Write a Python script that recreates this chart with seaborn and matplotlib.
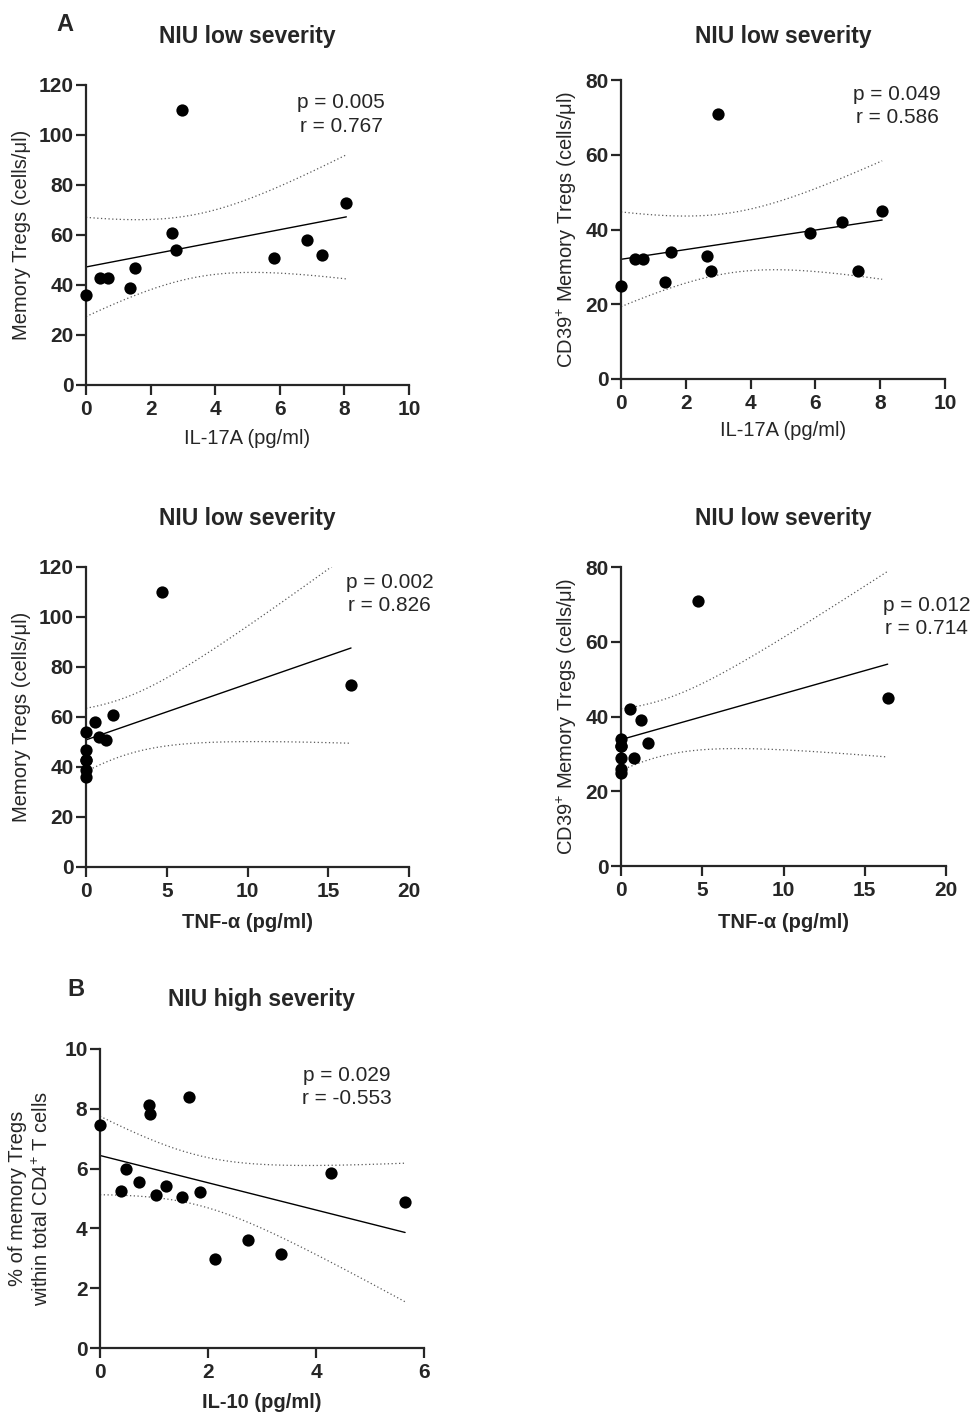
import numpy as np
import pandas as pd
import matplotlib

matplotlib.use("Agg")
import matplotlib.pyplot as plt
import seaborn as sns

# values (same 12 low-severity patients in panels A)
il17a = [0.0, 0.42, 0.67, 1.36, 1.53, 2.66, 2.78, 2.98, 5.82, 6.83, 7.30, 8.06]
tnfa = [0.0, 0.0, 0.0, 0.0, 0.0, 1.65, 0.0, 4.72, 1.24, 0.58, 0.78, 16.41]
mem_tregs = [36, 43, 43, 39, 47, 61, 54, 110, 51, 58, 52, 73]
cd39_tregs = [25, 32, 32, 26, 34, 33, 29, 71, 39, 42, 29, 45]

# panel B, high severity
il10 = [0.0, 0.38, 0.49, 0.73, 0.91, 0.93, 1.03, 1.22, 1.52, 1.65, 1.85,
        2.13, 2.74, 3.35, 4.28, 5.65]
pct_mem_tregs = [7.45, 5.26, 5.99, 5.54, 8.14, 7.81, 5.13, 5.43, 5.05, 8.39,
                 5.21, 2.97, 3.61, 3.14, 5.86, 4.88]

stats_labels = [
    ("p = 0.005", "r = 0.767"),
    ("p = 0.049", "r = 0.586"),
    ("p = 0.002", "r = 0.826"),
    ("p = 0.012", "r = 0.714"),
    ("p = 0.029", "r = -0.553"),
]

# two-sided 95% t quantiles by degrees of freedom
T95 = {10: 2.228, 14: 2.145}

sns.set_style("ticks")
plt.rcParams["font.family"] = ["Liberation Sans", "DejaVu Sans"]
plt.rcParams["mathtext.fontset"] = "custom"
plt.rcParams["mathtext.rm"] = "Liberation Sans"
plt.rcParams["mathtext.it"] = "Liberation Sans:italic"
plt.rcParams["mathtext.bf"] = "Liberation Sans:bold"

W, H = 974, 1417
fig = plt.figure(figsize=(W / 100, H / 100), dpi=100)


def px_axes(x0, x1, y0, y1):
    return fig.add_axes([x0 / W, 1 - y1 / H, (x1 - x0) / W, (y1 - y0) / H])


def draw_panel(ax, x, y, xlim, xstep, ylim, ystep, title, xlabel, ylabel,
               xbold, stats, stat_pos, ylab_off, xlab_off, title_y):
    df = pd.DataFrame({"x": x, "y": y})
    sns.regplot(data=df, x="x", y="y", ax=ax, ci=None, truncate=True,
                color="black",
                scatter_kws=dict(s=78, linewidths=0, clip_on=False, zorder=4, alpha=1),
                line_kws=dict(color="black", lw=1.0))

    # 95% confidence band of the fitted line, dotted
    xa = np.asarray(x, float)
    ya = np.asarray(y, float)
    n = len(xa)
    slope, intercept = np.polyfit(xa, ya, 1)
    resid = ya - (intercept + slope * xa)
    s = np.sqrt((resid ** 2).sum() / (n - 2))
    sxx = ((xa - xa.mean()) ** 2).sum()
    grid = np.linspace(xa.min(), xa.max(), 300)
    fit = intercept + slope * grid
    half = T95[n - 2] * s * np.sqrt(1 / n + (grid - xa.mean()) ** 2 / sxx)
    for band in (fit + half, fit - half):
        ax.plot(grid, band, color="0.35", lw=0.9, ls=(0, (1, 2)))

    ax.set_xlim(*xlim)
    ax.set_ylim(*ylim)
    ax.set_xticks(np.arange(xlim[0], xlim[1] + xstep / 2, xstep))
    ax.set_yticks(np.arange(ylim[0], ylim[1] + ystep / 2, ystep))
    sns.despine(ax=ax)
    for sp in ("left", "bottom"):
        ax.spines[sp].set_linewidth(1.6)
    ax.tick_params(axis="both", length=7, width=1.6, labelsize=15)
    ax.tick_params(axis="y", pad=2)
    ax.tick_params(axis="x", pad=4)
    for lbl in ax.get_xticklabels() + ax.get_yticklabels():
        lbl.set_fontweight("bold")

    ax.set_xlabel(xlabel, fontsize=14.5, fontweight="bold" if xbold else "normal")
    ax.set_ylabel(ylabel, fontsize=14.5, linespacing=1.3)
    ax.xaxis.set_label_coords(0.5, xlab_off)
    ax.xaxis.label.set_va("center")
    ax.yaxis.set_label_coords(ylab_off, 0.5)
    ax.yaxis.label.set(va="center", ha="center")

    ax.set_title(title, fontsize=16.5, fontweight="bold", y=title_y, va="center")

    sx, sy1, sy2 = stat_pos
    ax.text(sx, sy1, stats[0], transform=ax.transAxes, ha="center", va="center", fontsize=15)
    ax.text(sx, sy2, stats[1], transform=ax.transAxes, ha="center", va="center", fontsize=15)


ax1 = px_axes(86, 409, 85, 385)
draw_panel(ax1, il17a, mem_tregs, (0, 10), 2, (0, 120), 20,
           "NIU low severity", "IL-17A (pg/ml)", "Memory Tregs (cells/μl)",
           False, stats_labels[0], (0.79, 0.94, 0.86), -64 / 323, -53 / 300, 1.133)

ax2 = px_axes(621, 945, 80, 379)
draw_panel(ax2, il17a, cd39_tregs, (0, 10), 2, (0, 80), 20,
           "NIU low severity", "IL-17A (pg/ml)", "CD39$^{+}$ Memory Tregs (cells/μl)",
           False, stats_labels[1], (0.852, 0.95, 0.876), -54 / 324, -51 / 299, 1.117)

ax3 = px_axes(86, 409, 567, 867)
draw_panel(ax3, tnfa, mem_tregs, (0, 20), 5, (0, 120), 20,
           "NIU low severity", "TNF-α (pg/ml)", "Memory Tregs (cells/μl)",
           True, stats_labels[2], (0.94, 0.95, 0.873), -64 / 323, -55 / 300, 1.133)

ax4 = px_axes(621, 946, 567, 866)
draw_panel(ax4, tnfa, cd39_tregs, (0, 20), 5, (0, 80), 20,
           "NIU low severity", "TNF-α (pg/ml)", "CD39$^{+}$ Memory Tregs (cells/μl)",
           True, stats_labels[3], (0.94, 0.87, 0.793), -54 / 325, -57 / 299, 1.134)

ax5 = px_axes(100, 424, 1049, 1348)
draw_panel(ax5, il10, pct_mem_tregs, (0, 6), 2, (0, 10), 2,
           "NIU high severity", "IL-10 (pg/ml)",
           "% of memory Tregs\nwithin total CD4$^{+}$ T cells",
           True, stats_labels[4], (0.762, 0.913, 0.836), -70 / 324, -54 / 299, 1.137)

fig.text(65 / W, 1 - 24.5 / H, "A", ha="center", va="center", fontsize=17, fontweight="bold")
fig.text(76 / W, 1 - 989 / H, "B", ha="center", va="center", fontsize=17, fontweight="bold")

fig.savefig("out.png", dpi=100)
